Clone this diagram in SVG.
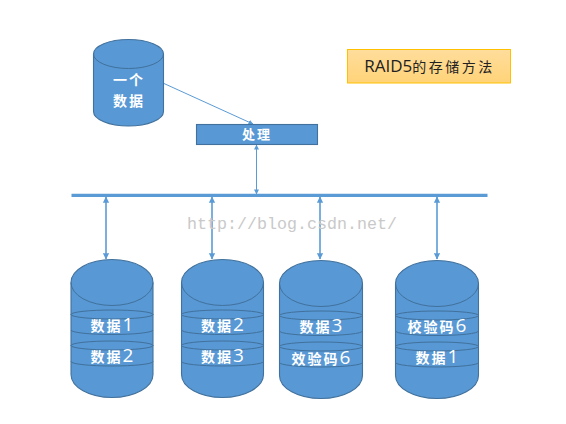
<svg xmlns="http://www.w3.org/2000/svg" width="566" height="424" viewBox="0 0 566 424">
<style>
.s{fill:#5898d4;stroke:#41719c;stroke-width:1.1}
.n{fill:none;stroke:#41719c;stroke-width:1}
.t{fill:#fff;font-family:"Noto Sans CJK SC","Liberation Sans",sans-serif;font-size:14px;font-weight:700;letter-spacing:2px;text-anchor:middle}
.d{font-family:"Open Sans","Liberation Sans",sans-serif;font-size:19px;font-weight:400;letter-spacing:0}
.c{stroke:#5b9bd5;fill:none}
</style>
<defs>
<linearGradient id="g" x1="0" y1="0" x2="0" y2="1"><stop offset="0" stop-color="#ffdd9c"/><stop offset="1" stop-color="#ffd378"/></linearGradient>
<marker id="a" viewBox="0 0 6 6" refX="5.5" refY="3" markerWidth="4" markerHeight="4" orient="auto-start-reverse"><path d="M0 0L6 3L0 6Z" fill="#5b9bd5"/></marker>
<marker id="b" viewBox="0 0 6 6" refX="5.500" refY="3" markerWidth="5" markerHeight="5" orient="auto-start-reverse"><path d="M0 0L6 3L0 6Z" fill="#5b9bd5"/></marker>
</defs>
<g id="connectors">
<path class="c" stroke-width="3.200" d="M71.500 195.300H487.500"/>
<path class="c" stroke-width="1" marker-end="url(#b)" d="M164 83.500L253 124"/>
<path class="c" stroke-width="1" marker-start="url(#b)" marker-end="url(#b)" d="M256.500 145V194"/>
<path class="c" stroke-width="1.600" marker-start="url(#a)" marker-end="url(#a)" d="M106 197V259"/>
<path class="c" stroke-width="1.600" marker-start="url(#a)" marker-end="url(#a)" d="M212 197V259"/>
<path class="c" stroke-width="1.600" marker-start="url(#a)" marker-end="url(#a)" d="M320 197V259"/>
<path class="c" stroke-width="1.600" marker-start="url(#a)" marker-end="url(#a)" d="M437 197V259"/>
</g>
<g id="source">
<path class="s" d="M93.500 54A35 14.500 0 0 1 163.500 54V111.500A35 14.500 0 0 1 93.500 111.500Z"/>
<path class="n" d="M93.500 54A35 14.500 0 0 0 163.500 54"/>
<text class="t" x="129" y="85">一个</text>
<text class="t" x="129" y="106">数据</text>
</g>
<g id="process">
<rect class="s" x="196.500" y="124.500" width="121" height="20"/>
<text class="t" x="257" y="139" style="font-size:13px">处理</text>
</g>
<g id="disk1">
<path class="s" d="M71 282.500A41 23 0 0 1 153 282.500V374.500A41 23 0 0 1 71 374.500Z"/>
<path class="n" d="M71 282.500A41 23 0 0 0 153 282.500"/>
<path class="n" d="M71 314.500A41 4.500 0 0 1 153 314.500A41 4.500 0 0 1 71 314.500M71 330A41 4.500 0 0 0 153 330M71 345.500A41 4.500 0 0 1 153 345.500A41 4.500 0 0 1 71 345.500M71 361.500A41 4.500 0 0 0 153 361.500"/>
<text class="t" x="112" y="331">数据<tspan class="d">1</tspan></text>
<text class="t" x="112" y="362">数据<tspan class="d">2</tspan></text>
</g>
<g id="disk2">
<path class="s" d="M181.500 282.500A41 23 0 0 1 263.500 282.500V374.500A41 23 0 0 1 181.500 374.500Z"/>
<path class="n" d="M181.500 282.500A41 23 0 0 0 263.500 282.500"/>
<path class="n" d="M181.500 314.500A41 4.500 0 0 1 263.500 314.500A41 4.500 0 0 1 181.500 314.500M181.500 330A41 4.500 0 0 0 263.500 330M181.500 345.500A41 4.500 0 0 1 263.500 345.500A41 4.500 0 0 1 181.500 345.500M181.500 361.500A41 4.500 0 0 0 263.500 361.500"/>
<text class="t" x="222.500" y="331">数据<tspan class="d">2</tspan></text>
<text class="t" x="222.500" y="362">数据<tspan class="d">3</tspan></text>
</g>
<g id="disk3">
<path class="s" d="M279.500 283.500A41.500 23 0 0 1 362.500 283.500V375.500A41.500 23 0 0 1 279.500 375.500Z"/>
<path class="n" d="M279.500 283.500A41.500 23 0 0 0 362.500 283.500"/>
<path class="n" d="M279.500 315.500A41.500 4.500 0 0 1 362.500 315.500A41.500 4.500 0 0 1 279.500 315.500M279.500 331A41.500 4.500 0 0 0 362.500 331M279.500 346.500A41.500 4.500 0 0 1 362.500 346.500A41.500 4.500 0 0 1 279.500 346.500M279.500 362.500A41.500 4.500 0 0 0 362.500 362.500"/>
<text class="t" x="321" y="332">数据<tspan class="d">3</tspan></text>
<text class="t" x="321" y="364">效验码<tspan class="d">6</tspan></text>
</g>
<g id="disk4">
<path class="s" d="M395.500 283.500A41.500 23 0 0 1 478.500 283.500V375.500A41.500 23 0 0 1 395.500 375.500Z"/>
<path class="n" d="M395.500 283.500A41.500 23 0 0 0 478.500 283.500"/>
<path class="n" d="M395.500 315.500A41.500 4.500 0 0 1 478.500 315.500A41.500 4.500 0 0 1 395.500 315.500M395.500 331A41.500 4.500 0 0 0 478.500 331M395.500 346.500A41.500 4.500 0 0 1 478.500 346.500A41.500 4.500 0 0 1 395.500 346.500M395.500 362.500A41.500 4.500 0 0 0 478.500 362.500"/>
<text class="t" x="437" y="332">校验码<tspan class="d">6</tspan></text>
<text class="t" x="437" y="363">数据<tspan class="d">1</tspan></text>
</g>
<g id="title">
<rect x="347.500" y="49.500" width="163" height="33.500" fill="url(#g)" stroke="#ffc000"/>
<text x="429.500" y="71.500" text-anchor="middle" fill="#222" font-family="'Open Sans','Noto Sans CJK SC',sans-serif" font-size="17">RAID5<tspan font-size="14" letter-spacing="2.500">的存储方法</tspan></text>
</g>
<text id="watermark" x="187" y="229" fill="#c9c9c9" font-family="'Liberation Mono',monospace" font-size="16.670">http://blog.csdn.net/</text>
</svg>
